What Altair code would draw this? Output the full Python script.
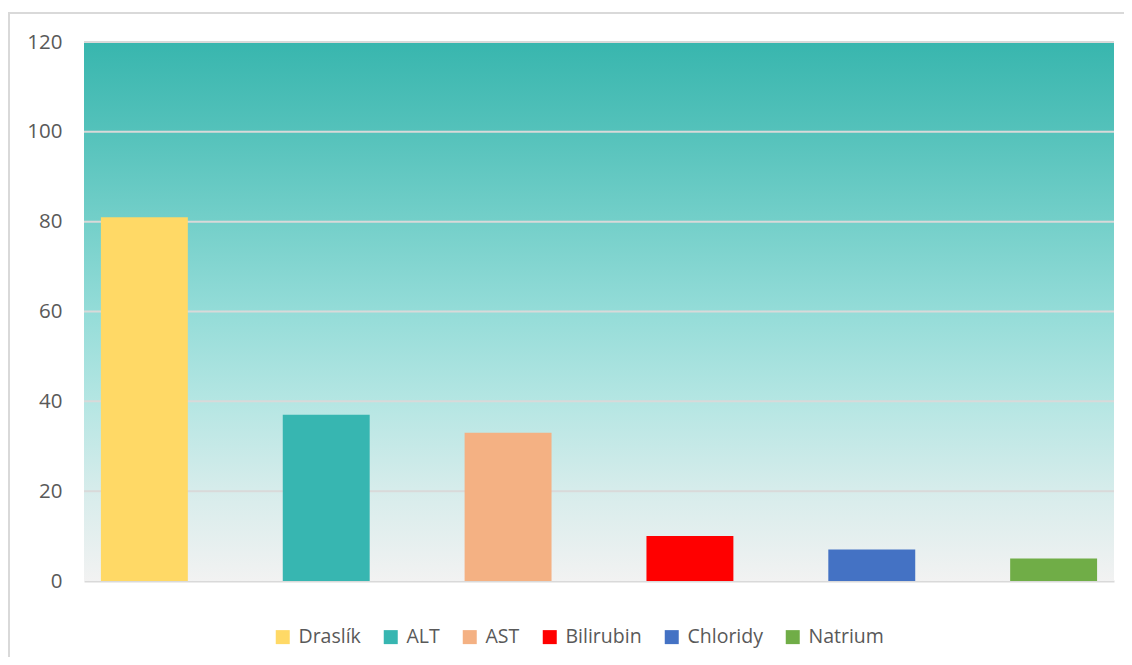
import altair as alt
import pandas as pd

categories = ["Draslík", "ALT", "AST", "Bilirubin", "Chloridy", "Natrium"]
values = [81, 37, 33, 10, 7, 5]
colors = ["#FFD966", "#37B6B1", "#F4B183", "#FF0000", "#4472C4", "#70AD47"]
y_ticks = [0, 20, 40, 60, 80, 100, 120]

df = pd.DataFrame({"name": categories, "value": values})
bg = pd.DataFrame({"a": [0]})
grid_df = pd.DataFrame({"value": [t for t in y_ticks if t > 0]})

W, H = 1030, 539
FONT = "Open Sans"

yscale = alt.Scale(domain=[0, 120])
yaxis = alt.Axis(
    title=None, values=y_ticks, ticks=False,
    domain=False, grid=False,
    labelFont=FONT, labelFontSize=20.5, labelColor="#595959",
    labelPadding=22,
)

background = alt.Chart(bg).mark_rect(
    color=alt.LinearGradient(
        gradient="linear",
        stops=[
            alt.GradientStop(offset=0.0, color="#38B6AE"),
            alt.GradientStop(offset=0.17, color="#55C2BB"),
            alt.GradientStop(offset=0.33, color="#73CFC9"),
            alt.GradientStop(offset=0.5, color="#94DCD8"),
            alt.GradientStop(offset=0.67, color="#B5E6E3"),
            alt.GradientStop(offset=0.83, color="#D6ECEB"),
            alt.GradientStop(offset=1.0, color="#F2F2F2"),
        ],
        x1=0, x2=0, y1=0, y2=1,
    )
).encode(
    x=alt.value(0),
    x2=alt.value(W),
    y=alt.datum(120, scale=yscale, type="quantitative", axis=yaxis),
    y2=alt.datum(0),
)

grid = alt.Chart(grid_df).mark_rule(color="#D9D9D9", strokeWidth=2).encode(
    y=alt.Y("value:Q", scale=yscale, axis=yaxis),
    x=alt.value(0),
    x2=alt.value(W),
)

bars = alt.Chart(df).mark_bar().encode(
    x=alt.X(
        "name:N",
        sort=categories,
        scale=alt.Scale(paddingInner=0.522, paddingOuter=0.093),
        axis=alt.Axis(
            title=None, labels=False, ticks=False, domain=True,
            domainColor="#D9D9D9", domainWidth=2,
        ),
    ),
    y=alt.Y("value:Q", scale=yscale, axis=yaxis),
    color=alt.Color(
        "name:N",
        sort=categories,
        scale=alt.Scale(domain=categories, range=colors),
        legend=alt.Legend(
            title=None, orient="none", direction="horizontal",
            legendX=189, legendY=585, symbolType="square", symbolSize=196,
            symbolStrokeWidth=0, labelFont=FONT, labelFontSize=19.5,
            labelColor="#595959", labelOffset=6, columnPadding=20,
            columns=6,
        ),
    ),
)

border = alt.Chart(bg).mark_rect(
    fillOpacity=0, stroke="#D9D9D9", strokeWidth=2
).encode(
    x=alt.value(-75), x2=alt.value(1200),
    y=alt.value(-29), y2=alt.value(760),
)

chart = alt.layer(background, grid, bars, border).properties(
    width=W, height=H,
    autosize=alt.AutoSizeParams(type="none"),
    padding={"left": 76, "top": 34, "right": 10, "bottom": 76},
    background="white",
).configure_view(stroke=None)

chart.save("out.html", embed_options={"renderer": "svg", "actions": False})
